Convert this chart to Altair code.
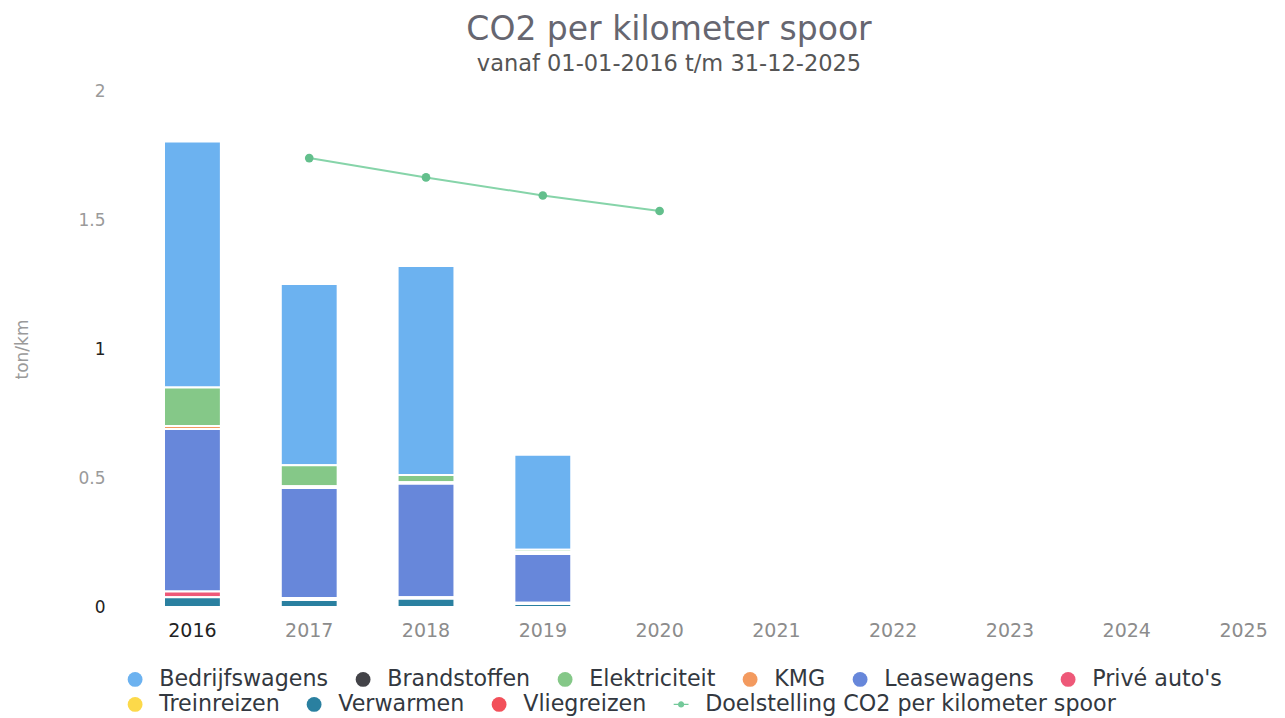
import altair as alt
import pandas as pd

years = [str(y) for y in range(2016, 2026)]
bar_years = ["2016", "2017", "2018", "2019"]

series = ["Bedrijfswagens", "Brandstoffen", "Elektriciteit", "KMG", "Leasewagens",
          "Privé auto's", "Treinreizen", "Verwarmen", "Vliegreizen"]
target_name = "Doelstelling CO2 per kilometer spoor"

bedrijfswagens = [0.953, 0.703, 0.810, 0.368]
brandstoffen = [0.0, 0.0, 0.0, 0.0]
elektriciteit = [0.149, 0.081, 0.028, 0.009]
kmg = [0.012, 0.007, 0.006, 0.008]
leasewagens = [0.630, 0.426, 0.440, 0.189]
prive_autos = [0.022, 0.008, 0.006, 0.004]
treinreizen = [0.0, 0.0, 0.0, 0.0]
verwarmen = [0.038, 0.027, 0.032, 0.012]
vliegreizen = [0.0, 0.0, 0.0, 0.0]

target_years = ["2017", "2018", "2019", "2020"]
target_values = [1.740, 1.665, 1.595, 1.535]

series_values = [bedrijfswagens, brandstoffen, elektriciteit, kmg, leasewagens,
                 prive_autos, treinreizen, verwarmen, vliegreizen]
colors = ["#6cb2f0", "#434348", "#85c888", "#f39a5f", "#6787da",
          "#ee5878", "#fcd94a", "#2a80a0", "#f2505a", "#74c99a"]
line_color = "#86d4a9"
dot_color = "#63bf8c"

all_names = series + [target_name]
legend_row1 = all_names[:6]
legend_row2 = all_names[6:]
row2_colors = colors[6:]
target_shape = ("M-1,-0.09H1V0.09H-1Z "
                "M0.42,0A0.42,0.42 0 1 1 -0.42,0A0.42,0.42 0 1 1 0.42,0Z")
row2_shapes = ["circle"] * 3 + [target_shape]

rows = []
for i, (name, vals) in enumerate(zip(series, series_values)):
    for yr, v in zip(bar_years, vals):
        if v > 0:
            rows.append({"year": yr, "serie": name, "value": v,
                         "stackorder": len(series) - 1 - i})
bars_df = pd.DataFrame(rows)
target_df = pd.DataFrame({"year": target_years, "value": target_values,
                          "serie": [target_name] * len(target_years)})

FONT = "DejaVu Sans"

common_legend = dict(
    title=None, orient="none", direction="horizontal", symbolType="circle",
    labelFontSize=22.2, labelColor="#333840", labelFont=FONT, labelLimit=600,
    symbolSize=220, symbolOpacity=1, symbolStrokeWidth=0,
    labelOffset=13, columnPadding=23, padding=0,
)
legend1 = alt.Legend(values=legend_row1, legendX=-40, legendY=577, **common_legend)
legend2 = alt.Legend(legendX=-40, legendY=602, **common_legend)

x_enc = alt.X(
    "year:N",
    scale=alt.Scale(domain=years, paddingInner=0.513, paddingOuter=0),
    axis=alt.Axis(
        title=None, labelAngle=0, labelFontSize=19, labelPadding=14,
        domain=False, ticks=False, grid=False, labelFont=FONT,
        labelColor={"condition": {"test": "datum.value === '2016'", "value": "#222222"},
                    "value": "#8c8c8c"},
    ),
)

y_axis = alt.Axis(
    title="ton/km", values=[0, 0.5, 1, 1.5, 2], format="~g",
    grid=False, domain=False, ticks=False, offset=50, labelPadding=9,
    labelFontSize=17, labelFont=FONT,
    labelColor={"condition": {"test": "datum.value === 1 || datum.value === 0", "value": "#222222"},
                "value": "#9a9a9a"},
    titleFontSize=17, titleFontWeight="normal", titleColor="#9a9a9a",
    titleFont=FONT, titlePadding=46,
)
y_scale = alt.Scale(domain=[0, 2], nice=False)

bars = alt.Chart(bars_df).mark_bar(stroke="white", strokeWidth=2).encode(
    x=x_enc,
    y=alt.Y("value:Q", stack="zero", scale=y_scale, axis=y_axis),
    color=alt.Color("serie:N", scale=alt.Scale(domain=all_names, range=colors), legend=legend1),
    order=alt.Order("stackorder:Q", sort="ascending"),
)

line = alt.Chart(target_df).mark_line(color=line_color, strokeWidth=2).encode(
    x=alt.X("year:N"),
    y=alt.Y("value:Q", stack=None),
)

dots = alt.Chart(target_df).mark_circle(color=dot_color, size=75, opacity=1).encode(
    x=alt.X("year:N"),
    y=alt.Y("value:Q", stack=None),
)

legend_keys = alt.Chart(target_df).mark_point(filled=True, opacity=0).encode(
    x=alt.X("year:N"),
    y=alt.Y("value:Q", stack=None),
    fill=alt.Fill("serie:N", scale=alt.Scale(domain=legend_row2, range=row2_colors), legend=legend2),
    shape=alt.Shape("serie:N", scale=alt.Scale(domain=legend_row2, range=row2_shapes), legend=legend2),
)

chart = alt.layer(bars, line, dots, legend_keys).properties(
    width=1108,
    height=516,
    padding={"left": 5, "top": 5, "right": 5, "bottom": 0},
    title=alt.TitleParams(
        text="CO2 per kilometer spoor",
        subtitle="vanaf 01-01-2016 t/m 31-12-2025",
        fontSize=33, subtitleFontSize=22.5, font=FONT, subtitleFont=FONT,
        color="#666670", subtitleColor="#555555", fontWeight="normal",
        anchor="middle", dx=-49, offset=7, subtitlePadding=6,
    ),
).resolve_scale(color="independent", fill="independent", shape="independent").configure(
    font=FONT
).configure_view(stroke=None)

chart.save("out.html", embed_options={"renderer": "svg", "actions": False})
